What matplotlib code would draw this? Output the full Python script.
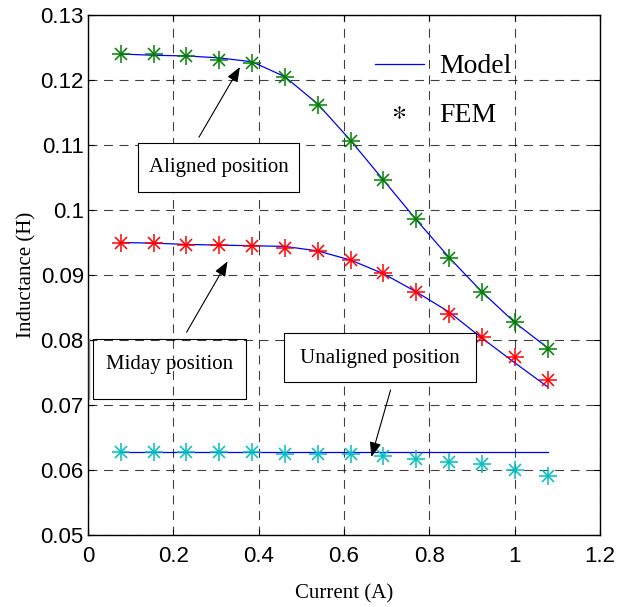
import matplotlib
matplotlib.use("Agg")
import matplotlib.pyplot as plt
from matplotlib.lines import Line2D
from matplotlib.patches import Rectangle

plt.rcParams["mathtext.fontset"] = "stix"

current = [1/13 * k for k in range(1, 15)]

aligned_fem = [0.1240, 0.1240, 0.1237, 0.1231, 0.1226, 0.1205, 0.1162,
               0.1106, 0.1046, 0.0986, 0.0926, 0.0874, 0.0828, 0.0786]
aligned_model = [0.1240, 0.1238, 0.1237, 0.1234, 0.1228, 0.1205, 0.1163,
                 0.1107, 0.1046, 0.0985, 0.0927, 0.0874, 0.0827, 0.0788]
midday_fem = [0.0950, 0.0950, 0.0946, 0.0946, 0.0944, 0.0941, 0.0937,
              0.0923, 0.0903, 0.0874, 0.0840, 0.0805, 0.0774, 0.0738]
midday_model = [0.0950, 0.0949, 0.0947, 0.0946, 0.0945, 0.0944, 0.0937,
                0.0923, 0.0902, 0.0874, 0.0843, 0.0803, 0.0765, 0.0728]
unaligned_fem = [0.0627, 0.0627, 0.0627, 0.0627, 0.0627, 0.0625, 0.0624,
                 0.0624, 0.0621, 0.0617, 0.0612, 0.0609, 0.0600, 0.0591]
unaligned_model = [0.0627] * 14

xticks = [0, 0.2, 0.4, 0.6, 0.8, 1.0, 1.2]
xtick_labels = ["0", "0.2", "0.4", "0.6", "0.8", "1", "1.2"]
yticks = [0.05, 0.06, 0.07, 0.08, 0.09, 0.10, 0.11, 0.12, 0.13]
ytick_labels = ["0.05", "0.06", "0.07", "0.08", "0.09", "0.1", "0.11", "0.12", "0.13"]

serif = "Liberation Serif"
sans = "Liberation Sans"

fig = plt.figure(figsize=(6.18, 6.07), dpi=100)
ax = fig.add_axes([0.1424, 0.1186, 0.8286, 0.8567])

blue = "#0000ff"
ax.plot(current, aligned_model, color=blue, lw=0.9, zorder=3)
ax.plot(current, midday_model, color=blue, lw=0.9, zorder=3)
ax.plot(current, unaligned_model, color=blue, lw=0.9, zorder=3)
for ys, col in [(aligned_fem, "#008000"), (midday_fem, "#ff0000"),
                (unaligned_fem, "#00bfbf")]:
    ax.plot(current, ys, ls="none", marker="+", ms=13, mew=1.1, color=col, zorder=4)
    ax.plot(current, ys, ls="none", marker="x", ms=8, mew=1.1, color=col, zorder=4)

ax.set_xlim(0, 1.2)
ax.set_ylim(0.05, 0.13)
ax.set_xticks(xticks)
ax.set_xticklabels(xtick_labels, fontfamily=sans, fontsize=16)
ax.set_yticks(yticks)
ax.set_yticklabels(ytick_labels, fontfamily=sans, fontsize=16)
ax.tick_params(direction="in", top=True, right=True, length=4, width=0.8)
ax.tick_params(axis="x", pad=8)
ax.tick_params(axis="y", pad=3)
ax.grid(True, color="black", ls=(0, (8, 6)), lw=0.8, alpha=0.75)
for s in ax.spines.values():
    s.set_linewidth(1.0)

ax.set_xlabel("Current (A)", fontfamily=serif, fontsize=15, labelpad=12)
ax.set_ylabel("Inductance (H)", fontfamily=serif, fontsize=15, labelpad=3)

arrow = dict(arrowstyle="-|>,head_length=0.9,head_width=0.35", color="black",
             lw=0.8, shrinkA=0, shrinkB=0)

# Aligned
ax.add_patch(Rectangle((0.117, 0.1028), 0.4945 - 0.117, 0.1103 - 0.1028,
                       fc="white", ec="black", lw=0.8, zorder=5))
ax.text(0.306, 0.1066, "Aligned position", fontfamily=serif, fontsize=15,
        ha="center", va="center", zorder=6)
ax.annotate("", xy=(0.356, 0.1220), xytext=(0.26, 0.1112), arrowprops=arrow,
            zorder=6)

# Miday (transparent box)
ax.add_patch(Rectangle((0.0117, 0.07092), 0.370 - 0.0117, 0.08015 - 0.07092,
                       fc="none", ec="black", lw=0.8, zorder=5))
ax.plot([0.0035, 0.0035], [0.07092, 0.08015], color="gray", lw=1.0, zorder=5)
ax.text(0.19, 0.0762, "Miday position", fontfamily=serif, fontsize=15,
        ha="center", va="center", zorder=6)
ax.annotate("", xy=(0.327, 0.0921), xytext=(0.231, 0.0812), arrowprops=arrow,
            zorder=6)

# Unaligned
ax.add_patch(Rectangle((0.4593, 0.07354), 0.9093 - 0.4593, 0.08108 - 0.07354,
                       fc="white", ec="black", lw=0.8, zorder=5))
ax.text(0.684, 0.0771, "Unaligned position", fontfamily=serif, fontsize=15,
        ha="center", va="center", zorder=6)
ax.annotate("", xy=(0.664, 0.0620), xytext=(0.709, 0.0723), arrowprops=arrow,
            zorder=6)

handles = [Line2D([], [], color=blue, lw=0.9),
           Line2D([], [], ls="none", marker="$*$", ms=9, color="black", mew=0)]
leg = ax.legend(handles, ["Model", "FEM"], loc="upper left",
                bbox_to_anchor=(0.5605, 0.925), frameon=False,
                prop={"family": serif, "size": 20}, borderpad=0,
                borderaxespad=0, handlelength=1.75, handletextpad=0.55,
                labelspacing=0.82)

fig.savefig("out.png", dpi=100)
